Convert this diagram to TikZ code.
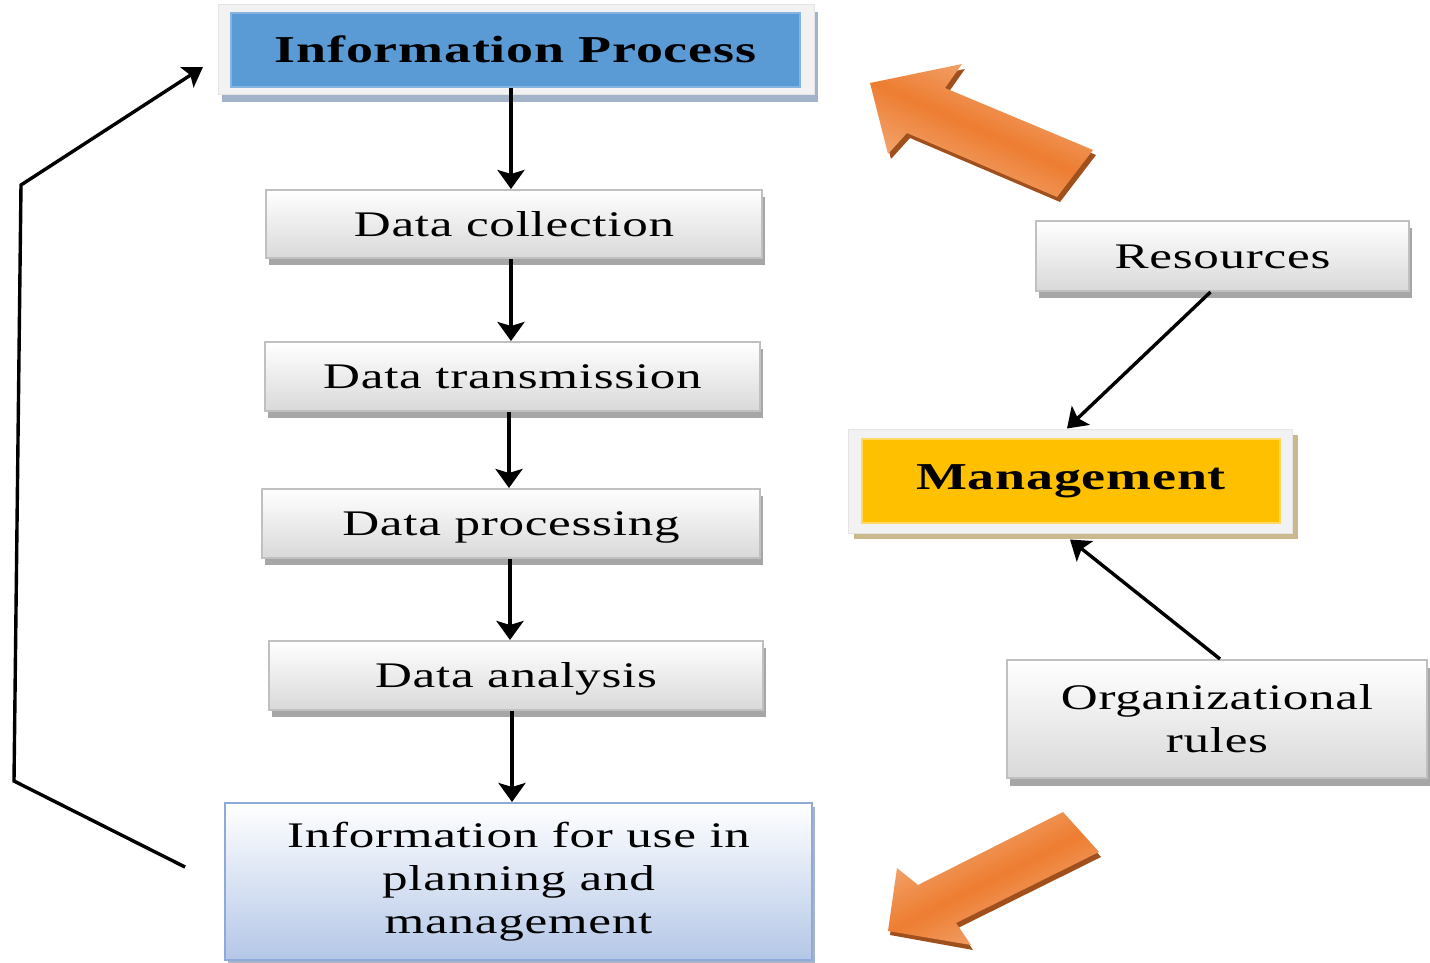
\documentclass[tikz,border=0pt]{standalone}
\usepackage{fontspec}
\setmainfont{Liberation Serif}[FakeStretch=1.42,LetterSpace=2]
\usetikzlibrary{shadows,arrows.meta,calc}
\definecolor{ipblue}{HTML}{5B9BD5}
\definecolor{ipedge}{HTML}{86B4E0}
\definecolor{frameg}{HTML}{F2F2F2}
\definecolor{frameedge}{HTML}{E4E4E4}
\definecolor{ipshadow}{HTML}{A3B3C9}
\definecolor{boxbot}{HTML}{D9D9D9}
\definecolor{boxborder}{HTML}{C0C0C0}
\definecolor{shadowgray}{HTML}{A6A6A6}
\definecolor{iubot}{HTML}{B4C7E7}
\definecolor{iuborder}{HTML}{8EAADB}
\definecolor{iushadow}{HTML}{A9B4C8}
\definecolor{mgyellow}{HTML}{FFC000}
\definecolor{mgedge}{HTML}{FFD966}
\definecolor{mgshadow}{HTML}{C9B98C}
\definecolor{orlight}{HTML}{F4B183}
\definecolor{ormid}{HTML}{ED7D31}
\definecolor{ordark}{HTML}{A0501C}
\tikzset{
  txt/.style={font=\fontsize{18}{21.5}\selectfont, align=center},
  boldtxt/.style={font=\fontsize{19}{22}\selectfont\bfseries},
  graybox/.style={txt, draw=boxborder, line width=1pt, top color=white, bottom color=boxbot,
    general shadow={fill=shadowgray, shadow xshift=1.5pt, shadow yshift=-3.5pt},
    inner sep=0pt, text height=12pt, text depth=0pt},
  flow/.style={line width=2pt, -{Stealth[length=9.5pt,width=13.5pt,inset=2pt]}},
  thinflow/.style={line width=1.7pt, -{Stealth[length=9.5pt,width=13pt,inset=2pt]}},
}
\begin{document}
\begin{tikzpicture}[x=0.5pt,y=-0.5pt]
\useasboundingbox[fill=white] (0,0) rectangle (1430,963);

% orange arrows
\fill[ordark] (873,88) -- (965,69) -- (948,93) -- (1096,155) -- (1060,202) -- (910,138) -- (891,159) -- cycle;
\shade[top color=orlight, bottom color=orlight, middle color=ormid, shading angle=-24]
  (870,83) -- (962,64) -- (945,88) -- (1093,150) -- (1057,197) -- (907,133) -- (888,154) -- cycle;
\fill[ordark] (890,935) -- (899,873) -- (920,890) -- (1065,817) -- (1101,857) -- (958,928) -- (973,950) -- cycle;
\shade[top color=orlight, bottom color=orlight, middle color=ormid, shading angle=27]
  (888,931) -- (897,868) -- (918,885) -- (1063,812) -- (1099,852) -- (956,923) -- (971,945) -- cycle;

% top box
\node[draw=frameedge, fill=frameg, line width=0.5pt, minimum width=298pt, minimum height=45pt,
  general shadow={fill=ipshadow, shadow xshift=2pt, shadow yshift=-3.5pt}] (ipframe) at (516,50) {};
\node[draw=ipedge, fill=ipblue, line width=0.6pt, minimum width=284.5pt, minimum height=37pt,
  boldtxt, text height=13pt, text depth=0pt, inner sep=0pt] (ip) at (515.5,50) {Information Process};

% process boxes
\node[graybox, minimum width=248pt, minimum height=34pt] (dc) at (514,224) {Data collection};
\node[graybox, minimum width=247.5pt, minimum height=34.5pt] (dt) at (512.5,376.5) {Data transmission};
\node[graybox, minimum width=249pt, minimum height=34.5pt] (dp) at (511,523.5) {Data processing};
\node[graybox, minimum width=247pt, minimum height=34.5pt] (da) at (516,675.5) {Data analysis};
\node[txt, draw=iuborder, line width=1pt, top color=white, bottom color=iubot,
  general shadow={fill=iushadow, shadow xshift=1.5pt, shadow yshift=-2pt},
  minimum width=293.5pt, minimum height=78.5pt, inner sep=0pt] (iu) at (518.5,881.5)
  {Information for use in\\planning and\\management};

% right side
\node[graybox, minimum width=186.5pt, minimum height=35pt] (res) at (1222.5,256) {Resources};
\node[draw=frameedge, fill=frameg, line width=0.5pt, minimum width=222pt, minimum height=52pt,
  general shadow={fill=mgshadow, shadow xshift=3pt, shadow yshift=-3pt}] (mgframe) at (1070,481) {};
\node[draw=mgedge, fill=mgyellow, line width=0.6pt, minimum width=209pt, minimum height=42pt,
  boldtxt, inner sep=0pt] (mg) at (1071,481) {Management};
\node[txt, draw=boxborder, line width=1pt, top color=white, bottom color=boxbot,
  general shadow={fill=shadowgray, shadow xshift=1.5pt, shadow yshift=-4pt},
  minimum width=210pt, minimum height=59pt, inner sep=0pt] (org) at (1217,719)
  {Organizational\\rules};

% vertical flow arrows
\draw[flow] (ip.south -| 511,0) -- (dc.north -| 511,0);
\draw[flow] (dc.south -| 511,0) -- (dt.north -| 511,0);
\draw[flow] (dt.south -| 509,0) -- (dp.north -| 509,0);
\draw[flow] (dp.south -| 510,0) -- (da.north -| 510,0);
\draw[flow] (da.south -| 512,0) -- (iu.north -| 512,0);

% diagonal arrows
\draw[thinflow] ([xshift=-6pt]res.south) -- ([xshift=-1.5pt]mgframe.north);
\draw[thinflow] ([xshift=1.5pt]org.north) -- ([yshift=-3pt]mgframe.south);

% feedback loop
\coordinate (fb1) at (185,867);
\coordinate (fb2) at (14,781);
\coordinate (fb3) at (21,185);
\coordinate (fb4) at (203,67);
\draw[line width=1.7pt, line join=miter, -{Stealth[length=9.5pt,width=12pt,inset=2pt]}] (fb1) -- (fb2) -- (fb3) -- (fb4);
\end{tikzpicture}
\end{document}
